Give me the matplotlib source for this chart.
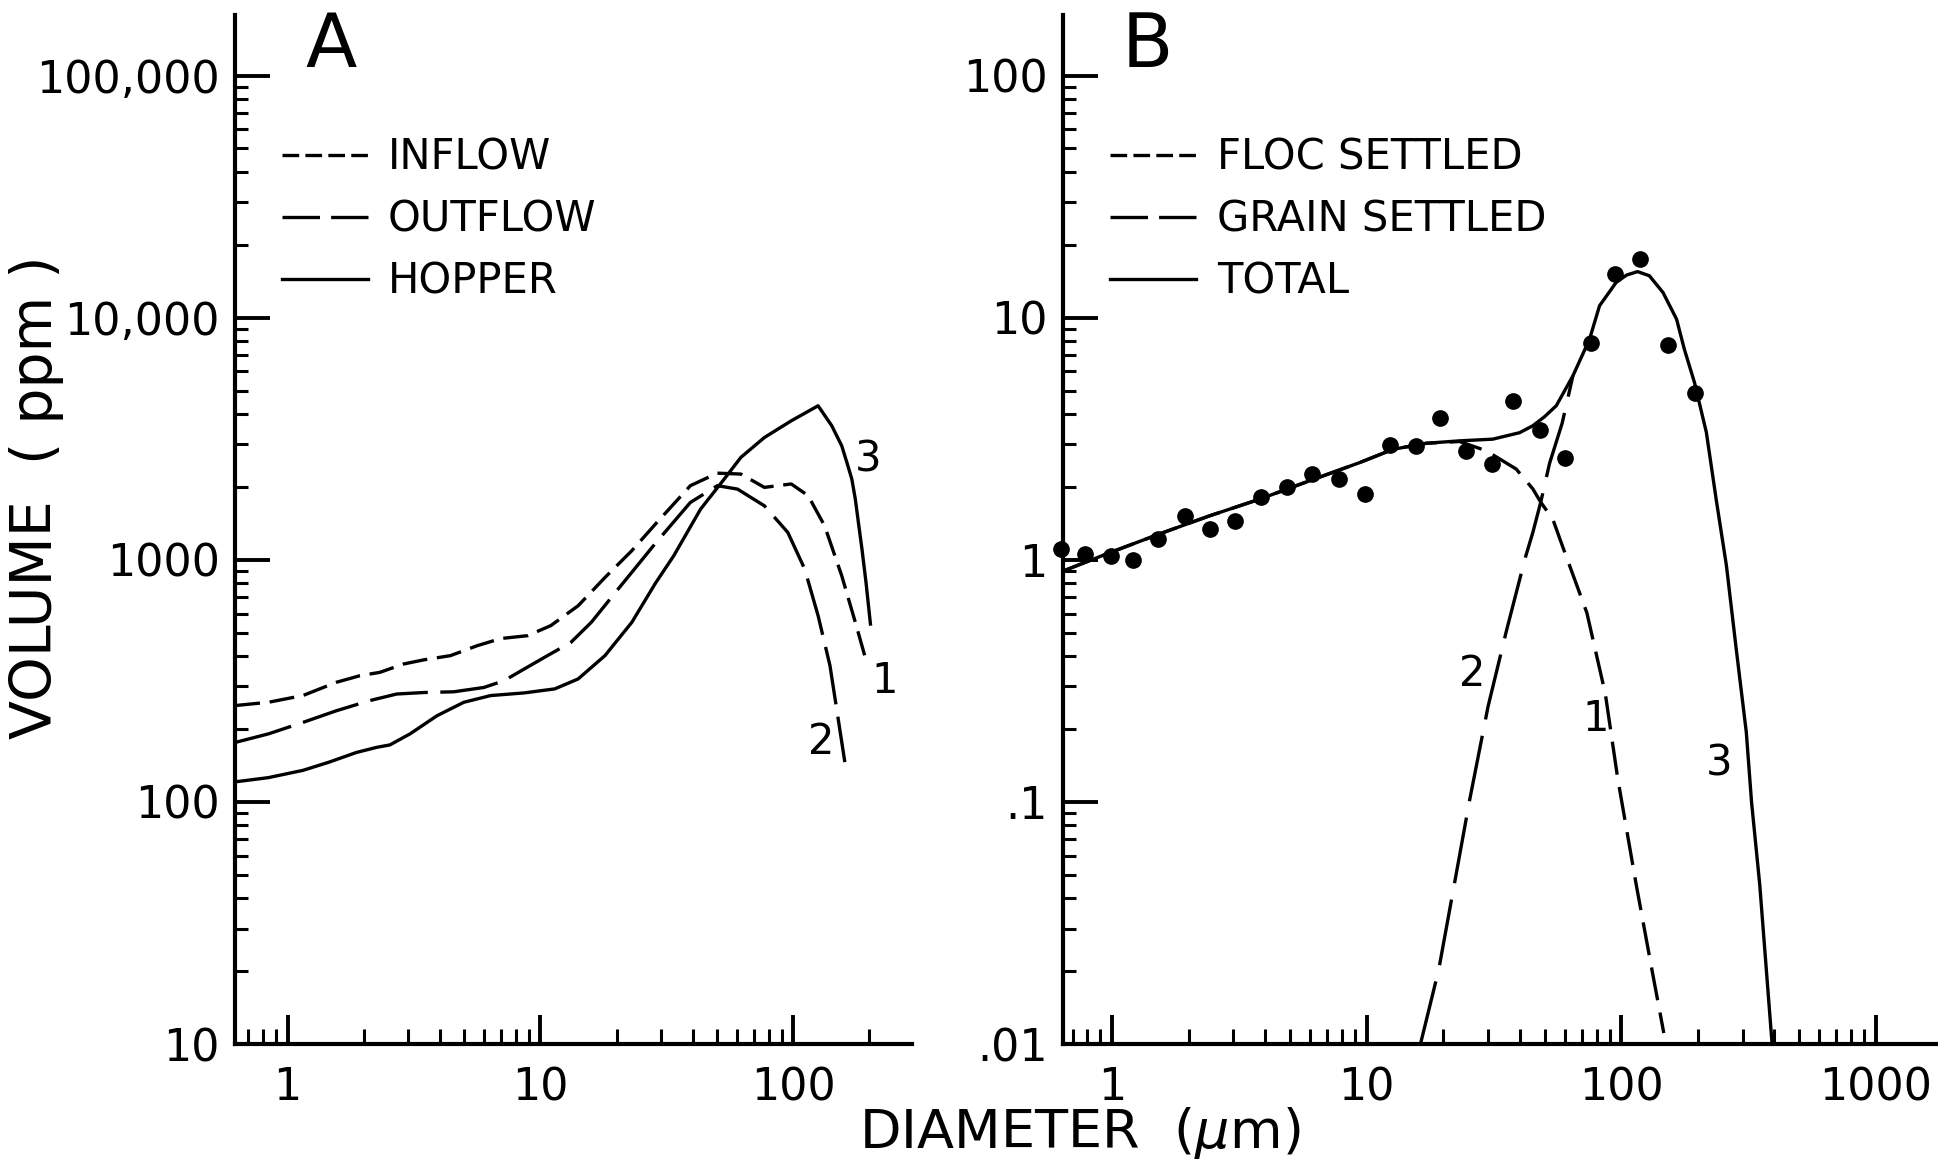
import numpy as np
import matplotlib
matplotlib.use("Agg")
import matplotlib.pyplot as plt
from matplotlib.lines import Line2D
from matplotlib.ticker import LogLocator, NullFormatter

plt.rcParams['font.family'] = ['DejaVu Sans']
plt.rcParams['lines.scale_dashes'] = False

# ---- Panel A: inflow / outflow / hopper (ppm) ----
inflow_d = [0.62, 0.84, 1.15, 1.56, 1.93, 2.32, 2.87, 3.45, 4.41, 5.63, 6.97, 8.9, 11.0,
            14.1, 18.0, 23.0, 28.9, 39.2, 50.1, 62.1, 76.9, 98.2, 114.5, 133, 155.5, 176, 196]
inflow_v = [250, 258, 275, 312, 332, 343, 371, 386, 402, 442, 473, 486, 535,
            646, 845, 1091, 1427, 2024, 2280, 2260, 1991, 2057, 1841, 1383, 860, 552, 371]

outflow_d = [0.62, 0.84, 1.15, 1.56, 2.11, 2.7, 3.45, 4.54, 5.98, 7.19, 8.63, 10.4, 13.2,
             15.9, 20.3, 28.7, 39.2, 50.1, 60.2, 76.9, 95.2, 111, 125.4, 139.7, 160]
outflow_v = [176, 191, 213, 238, 262, 279, 283, 285, 297, 317, 354, 396, 456,
             552, 757, 1180, 1726, 2024, 1959, 1671, 1297, 916, 588, 366, 146]

hopper_d = [0.62, 0.84, 1.15, 1.46, 1.87, 2.25, 2.54, 3.05, 3.9, 4.98, 6.36, 8.63, 11.4,
            14.1, 18.0, 23.0, 28.5, 33.7, 43.0, 53.3, 62.1, 76.9, 98.2, 125.4,
            142, 155.5, 163, 170.5, 176, 181, 187, 194, 202]
hopper_v = [121, 126, 135, 146, 160, 168, 172, 191, 227, 258, 275, 282, 293,
            322, 402, 552, 800, 1040, 1619, 2153, 2650, 3200, 3750, 4327,
            3580, 2958, 2523, 2155, 1782, 1427, 1107, 807, 543]

# ---- Panel B: settled volume ----
dots_d = [0.632, 0.78, 0.99, 1.21, 1.51, 1.93, 2.42, 3.03, 3.86, 4.88, 6.12, 7.79, 9.84,
          12.4, 15.6, 19.5, 24.5, 31.0, 37.6, 48.0, 60.3, 76.2, 94.5, 119, 153, 195]
dots_v = [1.107, 1.056, 1.04, 1.0, 1.22, 1.51, 1.34, 1.44, 1.82, 1.99, 2.26, 2.15, 1.87,
          2.98, 2.94, 3.87, 2.82, 2.48, 4.54, 3.43, 2.64, 7.85, 15.1, 17.5, 7.71, 4.89]

total_d = [0.623, 0.98, 1.54, 2.42, 3.8, 5.97, 9.39, 12.7, 17.2, 23.2, 31.3, 39.9, 45.0,
           50.0, 55.6, 64.6, 75.1, 82.2, 95.6, 105, 116, 129, 146, 165, 177, 194, 216,
           236, 259, 283, 310, 325, 350, 392]
total_v = [0.887, 1.07, 1.28, 1.52, 1.78, 2.12, 2.52, 2.86, 3.03, 3.10, 3.15, 3.35, 3.58,
           3.9, 4.33, 5.75, 8.15, 11.2, 14.0, 15.0, 15.5, 14.9, 12.7, 9.86, 7.41, 5.40, 3.36,
           1.78, 0.946, 0.428, 0.194, 0.10, 0.0456, 0.0098]

floc_d = [0.623, 0.98, 1.54, 2.42, 3.8, 5.97, 9.39, 12.7, 17.2, 23.2, 29.5, 33.3, 38.7,
          45.0, 48.3, 53.9, 58.6, 73.3, 86.6, 96.9, 114.5, 132, 147]
floc_v = [0.887, 1.07, 1.28, 1.52, 1.78, 2.12, 2.52, 2.86, 3.03, 3.08, 2.82, 2.61, 2.37,
          1.96, 1.73, 1.47, 1.15, 0.604, 0.280, 0.125, 0.0456, 0.0203, 0.0111]

grain_d = [16.2, 19.2, 22.1, 25.4, 30.0, 35.5, 42.0, 45.0, 48.3, 52.3, 58.6, 64.6]
grain_v = [0.0098, 0.0203, 0.0456, 0.102, 0.248, 0.514, 1.02, 1.30, 1.73, 2.5, 3.66, 5.75]

A_yticks = [10, 100, 1000, 10000, 100000]
A_ylabels = ['10', '100', '1000', '10,000', '100,000']
A_xticks = [1, 10, 100]
A_xlabels = ['1', '10', '100']
B_yticks = [0.01, 0.1, 1, 10, 100]
B_ylabels = ['.01', '.1', '1', '10', '100']
B_xticks = [1, 10, 100, 1000]
B_xlabels = ['1', '10', '100', '1000']

SHORT = (0, (18, 7))
LONG = (0, (42, 9))
LW = 2.4

fig = plt.figure(figsize=(19.38, 11.66), dpi=100)
axA = fig.add_axes([0.1213, 0.1046, 0.3493, 0.8825])
axB = fig.add_axes([0.5485, 0.1046, 0.4515, 0.8825])


def style_axis(ax, xlim, ylim, xt, xl, yt, yl):
    ax.set_xscale('log')
    ax.set_yscale('log')
    ax.set_xlim(*xlim)
    ax.set_ylim(*ylim)
    for s in ['top', 'right']:
        ax.spines[s].set_visible(False)
    for s in ['left', 'bottom']:
        ax.spines[s].set_linewidth(3)
    ax.set_xticks(xt)
    ax.set_xticklabels(xl)
    ax.set_yticks(yt)
    ax.set_yticklabels(yl)
    ax.xaxis.set_minor_locator(LogLocator(base=10, subs=np.arange(2, 10), numticks=50))
    ax.yaxis.set_minor_locator(LogLocator(base=10, subs=np.arange(2, 10), numticks=50))
    ax.xaxis.set_minor_formatter(NullFormatter())
    ax.yaxis.set_minor_formatter(NullFormatter())
    ax.tick_params(axis='y', which='major', direction='in', length=25, width=2.8,
                   labelsize=32, pad=11)
    ax.tick_params(axis='y', which='minor', direction='in', length=9, width=2.2)
    ax.tick_params(axis='x', which='major', direction='in', length=21, width=2.8,
                   labelsize=32, pad=16)
    ax.tick_params(axis='x', which='minor', direction='in', length=11, width=2.2)


def legend_handles():
    # legend keys: four short dashes, two long dashes, solid
    return [Line2D([], [], color='black', lw=LW, linestyle=(0, (12, 4.5))),
            Line2D([], [], color='black', lw=LW, linestyle=(0, (27, 8))),
            Line2D([], [], color='black', lw=LW)]


# Panel A
axA.plot(inflow_d, inflow_v, color='black', lw=LW, linestyle=SHORT)
axA.plot(outflow_d, outflow_v, color='black', lw=LW, linestyle=LONG)
axA.plot(hopper_d, hopper_v, color='black', lw=LW)
style_axis(axA, (0.62, 295), (10, 10 ** 5.25), A_xticks, A_xlabels, A_yticks, A_ylabels)
axA.text(229, 317, '1', fontsize=30, ha='center', va='center')
axA.text(129, 176, '2', fontsize=30, ha='center', va='center')
axA.text(198, 2606, '3', fontsize=30, ha='center', va='center')
axA.text(0.142, 0.969, 'A', transform=axA.transAxes, fontsize=54, ha='center', va='center')
axA.legend(legend_handles(), ['INFLOW', 'OUTFLOW', 'HOPPER'],
           loc='upper left', bbox_to_anchor=(0.0694, 0.882), frameon=False, fontsize=30,
           handlelength=2.07, handletextpad=0.46, labelspacing=0.48, borderpad=0,
           borderaxespad=0)

# Panel B
axB.plot(floc_d, floc_v, color='black', lw=LW, linestyle=(0, (24, 9)))
axB.plot(grain_d, grain_v, color='black', lw=LW, linestyle=(0, (48, 12)))
axB.plot(total_d, total_v, color='black', lw=LW)
axB.plot(dots_d, dots_v, 'o', color='black', markersize=11, clip_on=False)
style_axis(axB, (0.642, 1755), (0.01, 10 ** 2.25), B_xticks, B_xlabels, B_yticks, B_ylabels)
axB.text(79.7, 0.22, '1', fontsize=30, ha='center', va='center')
axB.text(26.1, 0.336, '2', fontsize=30, ha='center', va='center')
axB.text(243, 0.144, '3', fontsize=30, ha='center', va='center')
axB.text(0.096, 0.969, 'B', transform=axB.transAxes, fontsize=54, ha='center', va='center')
axB.legend(legend_handles(), ['FLOC SETTLED', 'GRAIN SETTLED', 'TOTAL'],
           loc='upper left', bbox_to_anchor=(0.0537, 0.882), frameon=False, fontsize=30,
           handlelength=2.07, handletextpad=0.5, labelspacing=0.48, borderpad=0,
           borderaxespad=0)

fig.text(37 / 1938, 1 - 497 / 1166, 'VOLUME  ( ppm )', rotation=90, fontsize=41,
         ha='center', va='center')
fig.text(1080 / 1938, 1 - 1133 / 1166, 'DIAMETER  ($\\mu$m)', fontsize=39,
         ha='center', va='center')

fig.savefig('out.png', dpi=100, facecolor='white')
